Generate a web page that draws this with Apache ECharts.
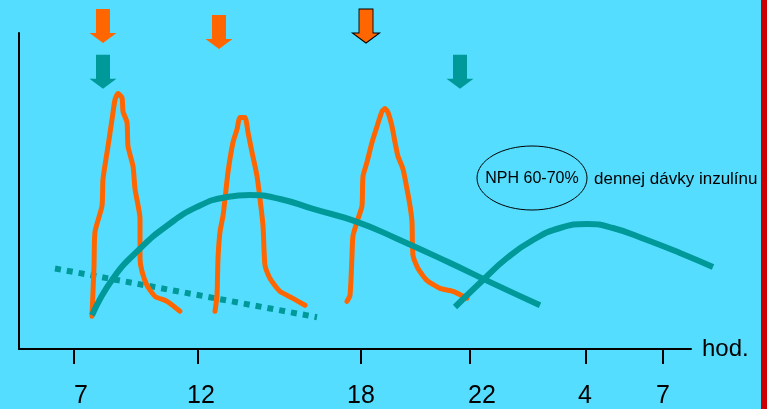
<!DOCTYPE html>
<html>
<head>
<meta charset="utf-8">
<script src="https://cdn.jsdelivr.net/npm/echarts@6/dist/echarts.min.js"></script>
<style>
html,body{margin:0;padding:0;background:#55DDFF;}
#chart{width:767px;height:409px;}
</style>
</head>
<body>
<div id="chart"></div>
<script>
// x in axis units along the time axis (0 .. 672), y in effect level units (0 .. 318)
var tickPos = [55, 179, 342, 451, 567, 644];
var labelPos = [62, 182, 342, 463, 566, 644];
var tickLabels = ['7', '12', '18', '22', '4', '7'];

var meal1 = [[73,33],[75,84],[76,118],[83,144],[84,171],[89,204],[93,231],[96,251],[99,257],[103,253],[104,239],[108,228],[109,204],[114,184],[116,161],[121,131],[121,91],[123,78],[128,64],[136,53],[148,48],[161,38]];
var meal2 = [[196,38],[198,54],[199,91],[201,118],[204,134],[206,151],[209,178],[214,208],[218,221],[221,233],[226,233],[229,218],[233,198],[238,174],[241,151],[244,124],[246,84],[251,71],[261,58],[274,51],[286,44]];
var meal3 = [[328,48],[331,54],[333,94],[334,114],[339,131],[343,144],[344,174],[348,188],[353,208],[358,224],[363,239],[366,242],[369,238],[373,224],[376,208],[379,194],[384,181],[388,161],[391,144],[393,128],[394,94],[399,81],[408,69],[421,61],[434,58],[448,51]];
var nph1 = [[73,34],[94,71],[121,101],[148,124],[178,143],[208,153],[231,155],[261,151],[294,141],[338,128],[378,111],[428,88],[478,64],[521,44]];
var nph2 = [[436,44],[464,71],[488,93],[514,111],[541,123],[568,127],[594,123],[628,111],[661,98],[694,84]];
var basal = [[36,81],[298,32]];
var mealArrows = [[84,325],[200,319],[347,325]];
var nphArrows = [[84,279],[441,279]];

var ORANGE = '#FF6600', TEAL = '#009999';
var arrowPath = 'path://M6.5,0 L20.5,0 L20.5,24 L27,24 L13.5,34 L0,24 L6.5,24 Z';

function orangeSeries(d){
  return {type:'line', data:d, smooth:0.2, showSymbol:false, symbol:'none', clip:false,
    lineStyle:{color:ORANGE, width:5, cap:'round', join:'round'}, z:3};
}
function tealSeries(d, axisIdx){
  return {type:'line', data:d, smooth:true, showSymbol:false, symbol:'none', clip:false,
    xAxisIndex:axisIdx, yAxisIndex:axisIdx ? 1 : 0,
    lineStyle:{color:TEAL, width:6, cap:'butt'}, z:4};
}

var chart = echarts.init(document.getElementById('chart'), null, {renderer:'canvas'});
var FONT = "'Liberation Sans', Arial, sans-serif";
chart.setOption({
  backgroundColor:'#55DDFF',
  animation:false,
  grid:[{left:19, right:76, top:33, bottom:58},
        {left:19, right:54, top:33, bottom:58}],
  xAxis:[{
    type:'value', min:0, max:672, gridIndex:0,
    axisLine:{show:true, lineStyle:{color:'#000', width:2}},
    axisTick:{show:true, customValues:tickPos, length:15, lineStyle:{color:'#000', width:2}},
    axisLabel:{show:false},
    splitLine:{show:false},
    name:'hod.', nameLocation:'end', nameGap:11,
    nameTextStyle:{color:'#000', fontSize:24, fontFamily:FONT, padding:[22,0,0,0]}
  },{
    type:'value', min:0, max:672, position:'bottom', gridIndex:0,
    axisLine:{show:false}, axisTick:{show:false}, splitLine:{show:false},
    axisLabel:{show:true, customValues:labelPos, margin:35, color:'#000', fontSize:25, fontFamily:FONT,
      formatter:function(v){
        for (var i=0;i<labelPos.length;i++){ if (Math.abs(labelPos[i]-v)<0.01) return tickLabels[i]; }
        return '';
      }}
  },{
    type:'value', min:0, max:694, gridIndex:1, show:false
  }],
  yAxis:[{type:'value', min:0, max:318, gridIndex:0,
    axisLine:{show:true, lineStyle:{color:'#000', width:2}},
    axisTick:{show:false}, axisLabel:{show:false}, splitLine:{show:false}},
    {type:'value', min:0, max:318, gridIndex:1, show:false}],
  series:[
    orangeSeries(meal1), orangeSeries(meal2), orangeSeries(meal3),
    tealSeries(nph1, 0), tealSeries(nph2, 2),
    {type:'line', data:basal, showSymbol:false, symbol:'none', clip:false,
      lineStyle:{color:TEAL, width:6, type:[6,6], cap:'butt'}, z:2},
    {type:'scatter', data:mealArrows.map(function(p,i){
        return {value:p, itemStyle: i===2 ? {borderColor:'#000', borderWidth:1} : {}};
      }), symbol:arrowPath, symbolSize:[27,34], clip:false,
      itemStyle:{color:ORANGE, opacity:1}, z:5},
    {type:'scatter', data:nphArrows, symbol:arrowPath, symbolSize:[27,34], clip:false,
      itemStyle:{color:TEAL, opacity:1}, z:5}
  ],
  graphic:[
    {type:'rect', left:761, top:0, shape:{width:6, height:409}, style:{fill:'#CC0000'}, z:100},
    {type:'ellipse', shape:{cx:532, cy:178, rx:55, ry:32}, style:{fill:'none', stroke:'#000', lineWidth:1}, z:50},
    {type:'text', x:532, y:179, style:{text:'NPH 60-70%', fill:'#000', font:"16px 'Liberation Sans', Arial, sans-serif", align:'center', verticalAlign:'middle'}, z:51},
    {type:'text', x:594, y:179, style:{text:'dennej dávky inzulínu', fill:'#000', font:"17px 'Liberation Sans', Arial, sans-serif", align:'left', verticalAlign:'middle'}, z:51}
  ]
});
</script>
</body>
</html>
